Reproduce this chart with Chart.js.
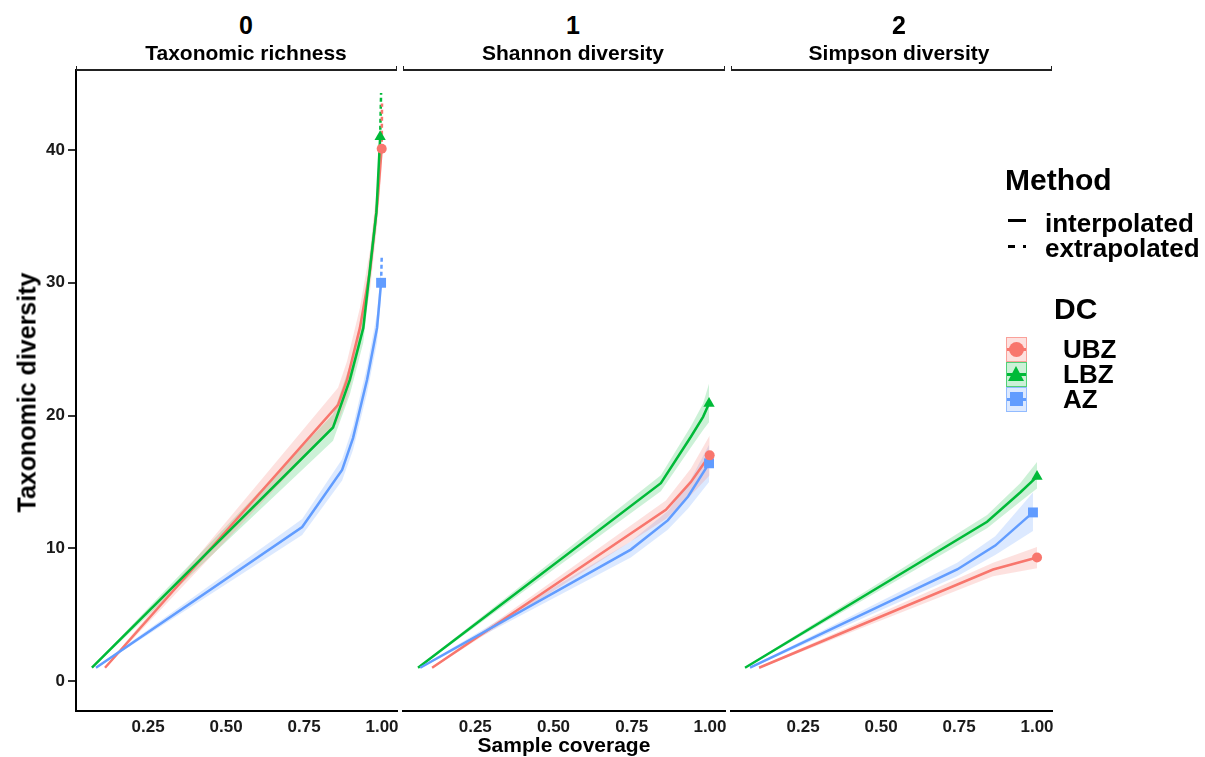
<!DOCTYPE html>
<html>
<head>
<meta charset="utf-8">
<script src="https://cdn.jsdelivr.net/npm/chart.js@4.4.1/dist/chart.umd.min.js"></script>
<style>
  body { margin: 0; background: #fff; font-family: Arial, "Liberation Sans", sans-serif; }
  #wrap { position: relative; width: 1205px; height: 757px; overflow: hidden; }
  canvas { position: absolute; top: 60px; }
  .t { position: absolute; font-weight: bold; color: #000; white-space: nowrap; line-height: 1; }
  .c { width: 260px; text-align: center; }
  .strip { position: absolute; top: 66px; height: 3px; border: 1px solid #222; border-bottom: 2px solid #222; border-top: none; }
  .key { position: absolute; left: 1006px; width: 19px; height: 23px; }
  .keyline { position: absolute; left: 0; right: 0; top: 10px; height: 3px; }
</style>
</head>
<body>
<div id="wrap">
  <canvas id="p0" width="400" height="700" style="left:0px"></canvas>
  <canvas id="p1" width="330" height="700" style="left:400px"></canvas>
  <canvas id="p2" width="330" height="700" style="left:728px"></canvas>

  <div class="strip" style="left:76px; width:319px"></div>
  <div class="strip" style="left:403px; width:320px"></div>
  <div class="strip" style="left:731px; width:319px"></div>

  <div class="t c" style="left:116px; top:13px; font-size:25px">0</div>
  <div class="t c" style="left:116px; top:42px; font-size:21px">Taxonomic richness</div>
  <div class="t c" style="left:443px; top:13px; font-size:25px">1</div>
  <div class="t c" style="left:443px; top:42px; font-size:21px">Shannon diversity</div>
  <div class="t c" style="left:769px; top:13px; font-size:25px">2</div>
  <div class="t c" style="left:769px; top:42px; font-size:21px">Simpson diversity</div>

  <div class="t c" style="left:434px; top:734px; font-size:21px">Sample coverage</div>
  <div class="t c" style="left:-103px; top:380px; font-size:25px; transform:rotate(-90deg)">Taxonomic diversity</div>

  <div class="t" style="left:1005px; top:165px; font-size:30px">Method</div>
  <div style="position:absolute; left:1008px; top:219px; width:18px; height:3px; background:#000"></div>
  <div style="position:absolute; left:1008px; top:245px; width:7px; height:3px; background:#000"></div>
  <div style="position:absolute; left:1023px; top:245px; width:3px; height:3px; background:#000"></div>
  <div class="t" style="left:1045px; top:210px; font-size:26px">interpolated</div>
  <div class="t" style="left:1045px; top:235px; font-size:26px">extrapolated</div>

  <div class="t" style="left:1054px; top:294px; font-size:30px">DC</div>
  <div id="keys"></div>
  <div class="t" style="left:1063px; top:336px; font-size:26px">UBZ</div>
  <div class="t" style="left:1063px; top:361px; font-size:26px">LBZ</div>
  <div class="t" style="left:1063px; top:386px; font-size:26px">AZ</div>
</div>
<script>
// ---- data ----
const sites = ['UBZ', 'LBZ', 'AZ'];
const xTicks = [0.25, 0.5, 0.75, 1.0];
const yTicks = [0, 10, 20, 30, 40];

// q = 0, taxonomic richness
const cov0UBZ = [0.112, 0.859, 0.888, 0.929, 0.962, 0.985, 0.999];
const est0UBZ = [1, 20.8, 22.7, 26.6, 31.0, 36.0, 40.1];
const lo0UBZ  = [0.95, 19.5, 21.3, 25.1, 29.5, 34.5, 38.6];
const hi0UBZ  = [1.05, 22.1, 24.1, 28.1, 32.5, 37.5, 41.6];
const cov0LBZ = [0.07, 0.843, 0.897, 0.94, 0.962, 0.982, 0.994];
const est0LBZ = [1, 19.1, 22.7, 26.6, 31.2, 35.3, 41.0];
const lo0LBZ  = [0.95, 18.1, 21.6, 25.5, 30.1, 34.2, 39.9];
const hi0LBZ  = [1.05, 20.1, 23.8, 27.7, 32.3, 36.4, 42.1];
const cov0AZ  = [0.083, 0.744, 0.872, 0.907, 0.952, 0.984, 0.997];
const est0AZ  = [1, 11.6, 15.9, 18.3, 22.7, 26.6, 30.0];
const lo0AZ   = [0.95, 11.0, 15.1, 17.4, 21.7, 25.5, 28.8];
const hi0AZ   = [1.05, 12.2, 16.7, 19.2, 23.7, 27.7, 31.2];
// extrapolated parts (q = 0 only visible)
const xcov0UBZ = [0.999, 1.0];
const xest0UBZ = [40.1, 43.5];
const xcov0LBZ = [0.994, 0.997];
const xest0LBZ = [41.0, 44.3];
const xcov0AZ  = [0.997, 0.999];
const xest0AZ  = [30.0, 31.9];

// q = 1, Shannon diversity
const cov1UBZ = [0.112, 0.859, 0.939, 0.999];
const est1UBZ = [1, 12.9, 15.0, 17.0];
const lo1UBZ  = [0.95, 12.2, 14.0, 15.5];
const hi1UBZ  = [1.05, 13.6, 16.0, 18.5];
const cov1LBZ = [0.067, 0.843, 0.939, 0.978, 0.997];
const est1LBZ = [1, 14.9, 18.4, 19.9, 20.9];
const lo1LBZ  = [0.95, 14.3, 17.6, 18.9, 19.5];
const hi1LBZ  = [1.05, 15.5, 19.2, 20.9, 22.4];
const cov1AZ  = [0.074, 0.747, 0.865, 0.93, 0.997];
const est1AZ  = [1, 9.9, 12.1, 13.9, 16.4];
const lo1AZ   = [0.95, 9.3, 11.4, 13.0, 15.0];
const hi1AZ   = [1.05, 10.5, 12.8, 14.8, 17.8];

// q = 2, Simpson diversity
const cov2UBZ = [0.109, 0.859, 1.0];
const est2UBZ = [1, 8.4, 9.3];
const lo2UBZ  = [0.95, 7.9, 8.5];
const hi2UBZ  = [1.05, 8.9, 10.1];
const cov2LBZ = [0.064, 0.84, 0.946, 1.0];
const est2LBZ = [1, 12.0, 14.2, 15.4];
const lo2LBZ  = [0.95, 11.5, 13.5, 14.5];
const hi2LBZ  = [1.05, 12.5, 14.9, 16.5];
const cov2AZ  = [0.08, 0.744, 0.866, 0.987];
const est2AZ  = [1, 8.4, 10.2, 12.7];
const lo2AZ   = [0.95, 7.9, 9.5, 11.3];
const hi2AZ   = [1.05, 8.9, 10.9, 14.2];

const colors = { UBZ: '#F8766D', LBZ: '#00BA38', AZ: '#619CFF' };
const fills = { UBZ: 'rgba(248,118,109,0.22)', LBZ: 'rgba(0,186,56,0.2)', AZ: 'rgba(97,156,255,0.22)' };
const shapes = { UBZ: 'circle', LBZ: 'triangle', AZ: 'rect' };
const sizes = { UBZ: 5, LBZ: 6.5, AZ: 7 };
const lineOrder = { UBZ: 1.3, LBZ: 1.2, AZ: 1.1 };

const panels = [
  { UBZ: [cov0UBZ, est0UBZ, lo0UBZ, hi0UBZ, xcov0UBZ, xest0UBZ],
    LBZ: [cov0LBZ, est0LBZ, lo0LBZ, hi0LBZ, xcov0LBZ, xest0LBZ],
    AZ:  [cov0AZ, est0AZ, lo0AZ, hi0AZ, xcov0AZ, xest0AZ] },
  { UBZ: [cov1UBZ, est1UBZ, lo1UBZ, hi1UBZ],
    LBZ: [cov1LBZ, est1LBZ, lo1LBZ, hi1LBZ],
    AZ:  [cov1AZ, est1AZ, lo1AZ, hi1AZ] },
  { UBZ: [cov2UBZ, est2UBZ, lo2UBZ, hi2UBZ],
    LBZ: [cov2LBZ, est2LBZ, lo2LBZ, hi2LBZ],
    AZ:  [cov2AZ, est2AZ, lo2AZ, hi2AZ] }
];

const xMin = 0.019, xMax = 1.048;
const yMin = -2.26, yMax = 46.03;
const font = { family: 'Arial, "Liberation Sans", sans-serif', weight: 'bold', size: 17 };

function pts(xs, ys) {
  return xs.map((x, i) => ({ x: x, y: ys[i] }));
}

function makeChart(id, data, showY, padL, padR) {
  const datasets = [];
  sites.forEach(s => {
    const [cov, est, lo, hi] = data[s];
    // confidence band
    datasets.push({ data: pts(cov, lo), borderWidth: 0, pointRadius: 0, fill: false, order: 5 });
    datasets.push({ data: pts(cov, hi), borderWidth: 0, pointRadius: 0, fill: '-1', backgroundColor: fills[s], order: 5 });
  });
  sites.forEach(s => {
    const [cov, est, lo, hi, xcov, xest] = data[s];
    if (xcov) {
      datasets.push({ data: pts(xcov, xest), borderColor: colors[s], borderWidth: 2.5, borderDash: [4, 3],
        pointRadius: 0, fill: false, order: 2 });
    }
    datasets.push({ data: pts(cov, est), borderColor: colors[s], borderWidth: 2.5, pointRadius: 0,
      fill: false, tension: 0, order: lineOrder[s] });
    const n = cov.length - 1;
    datasets.push({ data: [{ x: cov[n], y: est[n] }], showLine: false, pointStyle: shapes[s],
      pointRadius: sizes[s], pointBackgroundColor: colors[s], pointBorderWidth: 0, order: 0 });
  });

  new Chart(document.getElementById(id), {
    type: 'line',
    data: { datasets: datasets },
    options: {
      responsive: false,
      animation: false,
      layout: { autoPadding: false, padding: { top: 10, left: padL, right: padR, bottom: 0 } },
      plugins: { legend: { display: false }, tooltip: { enabled: false } },
      scales: {
        x: {
          type: 'linear', min: xMin, max: xMax,
          afterBuildTicks: ax => { ax.ticks = xTicks.map(v => ({ value: v })); },
          afterFit: ax => { ax.height = 49; ax.paddingLeft = 0; ax.paddingRight = 0; },
          grid: { display: false, drawTicks: false },
          border: { display: true, color: '#000', width: 2 },
          ticks: { padding: 6, font: font, color: '#1a1a1a', maxRotation: 0, autoSkip: false,
            callback: v => v.toFixed(2) }
        },
        y: {
          type: 'linear', display: showY, min: yMin, max: yMax,
          afterBuildTicks: ax => { ax.ticks = yTicks.map(v => ({ value: v })); },
          afterFit: ax => { ax.width = showY ? 76 : 0; ax.paddingTop = 0; ax.paddingBottom = 0; },
          grid: { display: true, drawOnChartArea: false, drawTicks: true, tickLength: 8, color: '#333', lineWidth: 2 },
          border: { display: true, color: '#000', width: 2 },
          ticks: { padding: 3, font: font, color: '#1a1a1a' }
        }
      }
    }
  });
}

makeChart('p0', panels[0], true, 0, 3);
makeChart('p1', panels[1], false, 3, 5);
makeChart('p2', panels[2], false, 3, 6);

// DC legend keys
const keyTops = [337, 362, 387];
const keysDiv = document.getElementById('keys');
sites.forEach((s, i) => {
  const box = document.createElement('div');
  box.className = 'key';
  box.style.top = keyTops[i] + 'px';
  box.style.background = fills[s];
  box.style.border = '1px solid ' + colors[s] + '99';
  const line = document.createElement('div');
  line.className = 'keyline';
  line.style.background = colors[s];
  box.appendChild(line);
  const sym = document.createElement('div');
  sym.style.position = 'absolute';
  if (shapes[s] === 'circle') {
    Object.assign(sym.style, { left: '2px', top: '4px', width: '15px', height: '15px', borderRadius: '50%', background: colors[s] });
  } else if (shapes[s] === 'triangle') {
    Object.assign(sym.style, { left: '1px', top: '3px', width: '0', height: '0',
      borderLeft: '8.5px solid transparent', borderRight: '8.5px solid transparent', borderBottom: '15px solid ' + colors[s] });
  } else {
    Object.assign(sym.style, { left: '3px', top: '4px', width: '13px', height: '14px', background: colors[s] });
  }
  box.appendChild(sym);
  keysDiv.appendChild(box);
});
</script>
</body>
</html>
